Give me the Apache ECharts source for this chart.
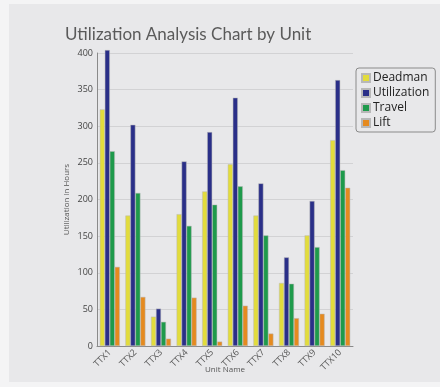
<!DOCTYPE html>
<html>
<head>
<meta charset="utf-8">
<script src="https://cdn.jsdelivr.net/npm/echarts@6/dist/echarts.min.js"></script>
<style>
  html, body { margin: 0; padding: 0; background: #f4f4f5; }
  #chart { width: 440px; height: 387px; }
</style>
</head>
<body>
<div id="chart"></div>
<script>
// Units on the x axis
const units = ['TTX1', 'TTX2', 'TTX3', 'TTX4', 'TTX5', 'TTX6', 'TTX7', 'TTX8', 'TTX9', 'TTX10'];

// Hours per unit for each activity
const deadman     = [323, 178, 40, 180, 211, 248, 178, 86, 151, 281];
const utilization = [404, 302, 51, 252, 292, 339, 222, 121, 198, 363];
const travel      = [266, 209, 33, 164, 193, 218, 151, 85, 135, 240];
const lift        = [108, 67, 10, 66, 6, 55, 17, 38, 44, 216];

const seriesNames = ['Deadman', 'Utilization', 'Travel', 'Lift'];
const seriesData = [deadman, utilization, travel, lift];
const colors = ['#e2dc3c', '#2a2f88', '#1e9a4b', '#e58a1f'];

const chart = echarts.init(document.getElementById('chart'), null, { renderer: 'canvas' });

const option = {
  animation: false,
  backgroundColor: '#f4f4f5',
  graphic: [{
    type: 'rect',
    z: -10,
    shape: { x: 9, y: 4, width: 431, height: 378 },
    style: { fill: '#e8e8ea' }
  }],
  title: {
    text: 'Utilization Analysis Chart by Unit',
    left: 60,
    top: 21,
    textStyle: {
      fontFamily: 'Lato',
      fontWeight: 'normal',
      fontSize: 17,
      color: '#5a5a5a'
    }
  },
  legend: {
    orient: 'vertical',
    left: 356,
    top: 68,
    padding: [4, 6, 3, 5],
    itemWidth: 8,
    itemHeight: 8,
    itemGap: 3,
    borderColor: '#8a8a8a',
    borderWidth: 1,
    borderRadius: 3,
    icon: 'rect',
    textStyle: { fontFamily: 'Open Sans', fontSize: 12, color: '#222', padding: [0, 0, 0, -2] },
    data: seriesNames
  },
  grid: { left: 97, right: 87, top: 53, bottom: 41, outerBoundsMode: 'none', containLabel: false },
  xAxis: {
    type: 'category',
    data: units,
    name: 'Unit Name',
    nameLocation: 'middle',
    nameGap: 20,
    nameMoveOverlap: false,
    nameTextStyle: { fontFamily: 'Open Sans', fontSize: 8, color: '#555' },
    axisLine: { lineStyle: { color: '#8a8a8a' } },
    axisTick: { alignWithLabel: true, lineStyle: { color: '#8a8a8a' }, length: 3 },
    axisLabel: { rotate: 45, fontFamily: 'Open Sans', fontSize: 9, color: '#555', margin: 5 }
  },
  yAxis: {
    type: 'value',
    min: 0,
    max: 400,
    interval: 50,
    name: 'Utilization in Hours',
    nameLocation: 'middle',
    nameGap: 26,
    nameMoveOverlap: false,
    nameTextStyle: { fontFamily: 'Open Sans', fontSize: 8, color: '#555' },
    axisLine: { show: true, lineStyle: { color: '#8a8a8a' } },
    axisTick: { show: false },
    axisLabel: { fontFamily: 'Open Sans', fontSize: 9, color: '#444', margin: 4 },
    splitLine: { lineStyle: { color: '#d2d2d4' } }
  },
  series: seriesNames.map((name, i) => ({
    name: name,
    type: 'bar',
    data: seriesData[i],
    barWidth: 5,
    barGap: '0%',
    clip: false,
    itemStyle: { color: colors[i], borderColor: '#b8b8b8', borderWidth: 0.5 }
  }))
};

chart.setOption(option);
</script>
</body>
</html>
